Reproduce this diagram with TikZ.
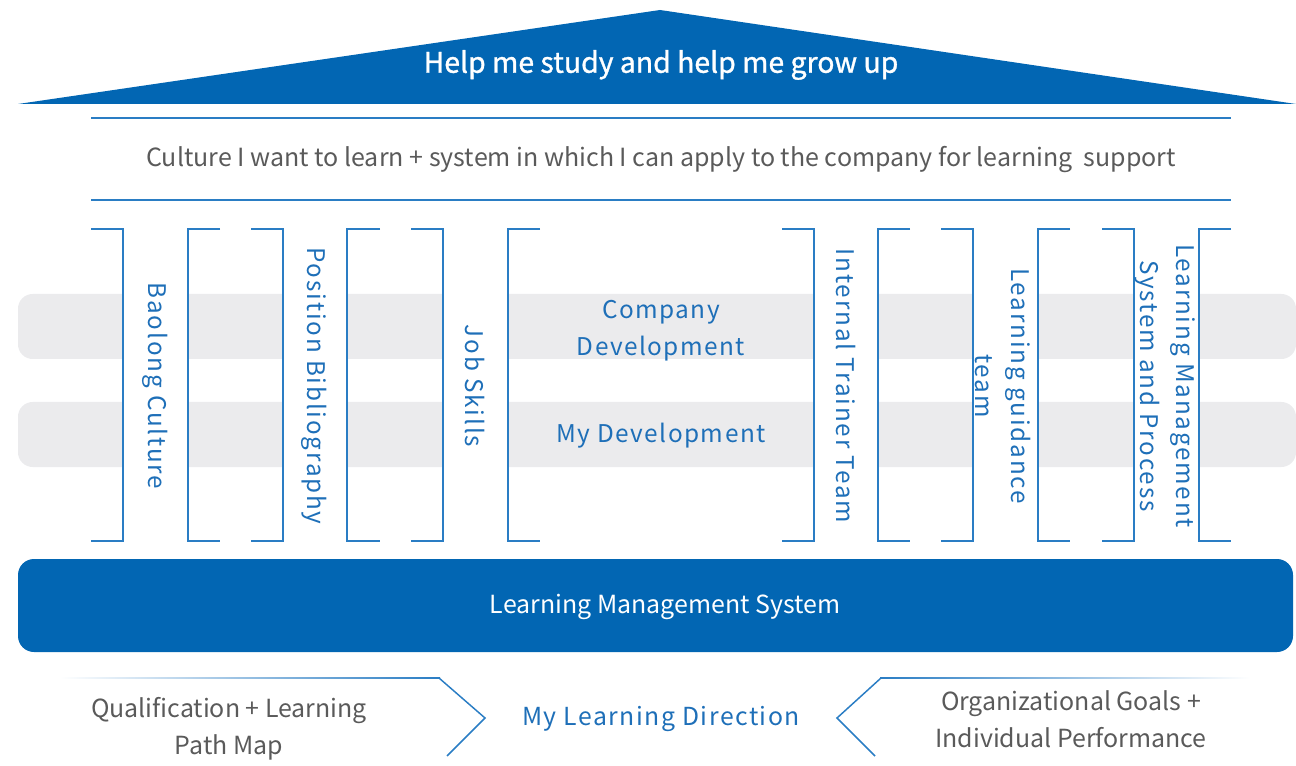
\documentclass[tikz,border=0pt]{standalone}
\usepackage{fontspec}
\setmainfont{Noto Sans CJK SC}
\newfontfamily\trk[LetterSpace=6]{Noto Sans CJK SC}
\newfontfamily\trkv[LetterSpace=7.5]{Noto Sans CJK SC}
\newfontfamily\semib[FakeBold=1.1]{Noto Sans CJK SC}
\definecolor{roof}{HTML}{0266B3}
\definecolor{lineblue}{HTML}{2A7DC4}
\definecolor{tblue}{HTML}{1E6FB8}
\definecolor{tgray}{HTML}{5A5A5A}
\definecolor{band}{HTML}{EBEBED}
\tikzset{
  br/.style={draw=lineblue, line width=1.1pt},
  hline/.style={draw=lineblue, line width=1.1pt},
  vtext/.style={rotate=-90, text=tblue, align=center, inner sep=0pt, font=\trkv\fontsize{18.2}{27}\selectfont},
  ctext/.style={text=tblue, align=center, inner sep=0pt, font=\trk\fontsize{18.3}{28}\selectfont},
  gtext/.style={text=tgray, align=center, inner sep=0pt, font=\fontsize{18.7}{28}\selectfont},
}
\begin{document}
\begin{tikzpicture}[x=0.75pt,y=-0.75pt]
\useasboundingbox (0,0) rectangle (1296,766);
\clip (0,0) rectangle (1296,766);
% roof
\fill[roof] (18,104) -- (660,10) -- (1296,104) -- cycle;
\node[text=white, inner sep=0pt, font=\semib\fontsize{21.3}{24}\selectfont] (roofT) at (661,65) {Help me study and help me grow up};
% culture band
\draw[hline] (91,118) -- (1231,118);
\draw[hline] (91,200) -- (1231,200);
\node[gtext, font=\fontsize{18.75}{28}\selectfont] (culture) at (661,160) {Culture I want to learn + system in which I can apply to the company for learning\ \ support};
% gray bands
\fill[band, rounded corners=11pt] (18,294) rectangle (1296,359);
\fill[band, rounded corners=11pt] (18,402) rectangle (1296,467);
\foreach \a/\b in {123.5/187.5, 283.5/346.5, 443.5/507.5, 814.5/877.5, 973.5/1037.5, 1134.5/1198.5}
  \fill[white] (\a,290) rectangle (\b,470);
% brackets
\draw[br] (91,229) -- (123,229) -- (123,541) -- (91,541);
\draw[br] (220,229) -- (188,229) -- (188,541) -- (220,541);
\draw[br] (251,229) -- (283,229) -- (283,541) -- (251,541);
\draw[br] (380,229) -- (347,229) -- (347,541) -- (380,541);
\draw[br] (411,229) -- (443,229) -- (443,541) -- (411,541);
\draw[br] (540,229) -- (508,229) -- (508,541) -- (540,541);
\draw[br] (782,229) -- (814,229) -- (814,541) -- (782,541);
\draw[br] (910,229) -- (878,229) -- (878,541) -- (910,541);
\draw[br] (941,229) -- (973,229) -- (973,541) -- (941,541);
\draw[br] (1070,229) -- (1038,229) -- (1038,541) -- (1070,541);
\draw[br] (1102,229) -- (1134,229) -- (1134,541) -- (1102,541);
\draw[br] (1231,229) -- (1199,229) -- (1199,541) -- (1231,541);
% vertical texts
\node[vtext] (baolong) at (155,386) {Baolong Culture};
\node[vtext] (position) at (314,386) {Position Bibliography};
\node[vtext] (job) at (475,386) {Job Skills};
\node[vtext] (trainer) at (846,386) {Internal Trainer Team};
\node[vtext] (guidance) at (1003,386) {Learning guidance\\team};
\node[vtext] (lmsp) at (1165,386) {Learning Management\\System and Process};
% center
\node[ctext] (company) at (661,331) {Company\\Development};
\node[ctext] (mydev) at (661,436) {My Development};
% LMS bar
\fill[roof, rounded corners=12pt] (18,559) rectangle (1293,652);
\node[text=white, inner sep=0pt, font=\fontsize{18.7}{24}\selectfont] (lms) at (665,607) {Learning Management System};
% bottom chevrons
\shade[left color=white, right color=lineblue] (60,677.4) rectangle (440,678.6);
\draw[lineblue, line width=1.1pt, line join=miter] (439,678) -- (485,718) -- (447,756);
\shade[left color=lineblue, right color=white] (880,677.4) rectangle (1250,678.6);
\draw[lineblue, line width=1.1pt, line join=miter] (881,678) -- (837,718) -- (875,756);
\node[gtext] (qual) at (229,729) {Qualification + Learning\\Path Map};
\node[ctext, font=\trk\fontsize{18.6}{28}\selectfont] (dir) at (661,719) {My Learning Direction};
\node[gtext] (org) at (1071,719) {Organizational Goals +\\Individual Performance};
\end{tikzpicture}
\end{document}
